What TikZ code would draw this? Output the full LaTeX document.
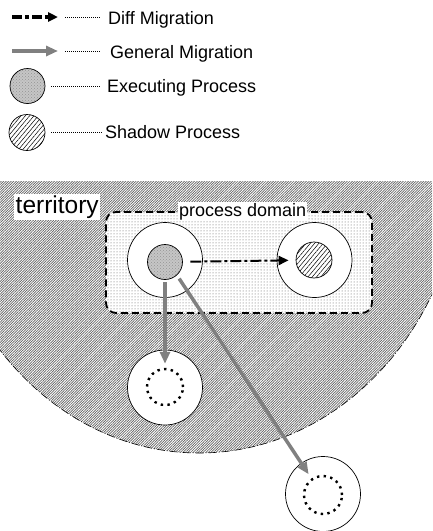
\documentclass[tikz,border=0pt]{standalone}
\usepackage{fontspec}
\setmainfont{Liberation Sans}
\usetikzlibrary{arrows.meta,patterns,patterns.meta}

\tikzset{
  terr/.style={pattern={Lines[angle=45,distance=1.8pt,line width=0.7pt]},pattern color=black!62},
  procdom/.style={rectangle,rounded corners=10pt,draw,line width=1.8pt,dash pattern=on 7pt off 4pt,
    preaction={fill=white},pattern=dots,pattern color=black!65},
  lbl/.style={fill=white,inner sep=1pt,anchor=base west},
  cell/.style={circle,draw,line width=0.7pt,fill=white,minimum size=75pt,inner sep=0pt},
  exec/.style={circle,draw,line width=0.7pt,minimum size=35pt,inner sep=0pt,
    preaction={fill=gray!45},pattern=crosshatch dots,pattern color=gray!85},
  shadow/.style={circle,draw,line width=0.7pt,minimum size=36pt,inner sep=0pt,
    preaction={fill=white},pattern={Lines[angle=50,distance=3.3pt,line width=0.5pt]}},
  ghost/.style={circle,draw,line width=2.4pt,dash pattern=on 2.4pt off 4.3pt,
    minimum size=36pt,inner sep=0pt},
  diffmig/.style={line width=2pt,dash pattern=on 11pt off 3pt on 3pt off 3pt,
    -{Triangle[length=10pt,width=9pt]}},
  genmig/.style={line width=3.5pt,black!50,-{Triangle[length=12pt,width=10pt]}},
  leader/.style={line width=1pt,dash pattern=on 1pt off 1pt},
  legtxt/.style={anchor=base west,inner sep=0pt}
}

\begin{document}
\begin{tikzpicture}[x=1pt,y=-1pt,every node/.style={font=\fontsize{18}{20}\selectfont}]
    \useasboundingbox (0,0) rectangle (432,531);

    % Legend
    \coordinate (ld1) at (12,17);
    \coordinate (ld2) at (58,17);
    \draw[diffmig,line width=3.5pt,dash pattern=on 10pt off 3pt on 4pt off 3pt] (ld1) -- (ld2);
    \node[legtxt] (difftxt) at (108,24) {Diff Migration};
    \draw[leader] ([xshift=7pt]ld2) -- ([xshift=-7pt]difftxt.west |- ld2);

    \coordinate (lg1) at (12,51);
    \coordinate (lg2) at (58,51);
    \draw[genmig] (lg1) -- (lg2);
    \node[legtxt] (gentxt) at (110,58) {General Migration};
    \draw[leader] ([xshift=7pt]lg2) -- ([xshift=-9pt]gentxt.west |- lg2);

    \node[exec] (lexec) at (27.5,86) {};
    \node[legtxt] (exectxt) at (107,92) {Executing Process};
    \draw[leader] ([xshift=6pt]lexec.east) -- ([xshift=-6pt]exectxt.west |- lexec.east);

    \node[shadow] (lshad) at (27,132.5) {};
    \node[legtxt] (shadtxt) at (105,138) {Shadow Process};
    \draw[leader] ([xshift=6pt]lshad.east) -- ([xshift=-3pt]shadtxt.west |- lshad.east);

    % Territory
    \begin{scope}
      \clip (0,181) rectangle (432,531);
      \fill[terr] (199,150) ellipse [x radius=265, y radius=303];
      \draw[line width=0.6pt,dash pattern=on 8pt off 2pt on 1pt off 2pt] (199,150) ellipse [x radius=265, y radius=303];
    \end{scope}
    \node[lbl,inner sep=1.5pt,font=\fontsize{24.5}{26}\selectfont] (terrlbl) at (14,213) {territory};

    % Process domain
    \node[procdom,minimum width=266pt,minimum height=101pt] (dom) at (239,262.5) {};
    \node[lbl] (domlbl) at (178,216) {process domain};

    % Hosts
    \node[cell] (exo) at (165,260) {};
    \node[exec] (ex) at (165,262) {};
    \node[cell] (sho) at (314.5,260) {};
    \node[shadow] (sh) at (314,260) {};
    \node[cell] (llo) at (165,387.5) {};
    \node[ghost] (lin) at (165,387) {};
    \node[cell] (lro) at (323,494) {};
    \node[ghost,minimum size=38pt] (rin) at (323,495) {};

    % Migrations
    \draw[diffmig,shorten <=7.5pt,shorten >=7pt] (ex) -- (sh);
    \draw[genmig,shorten <=2.5pt,shorten >=4pt] (ex.south) -- (lin.north);
    \draw[genmig,shorten <=4pt,shorten >=5pt] (ex.-48) -- (rin.125);
\end{tikzpicture}
\end{document}
